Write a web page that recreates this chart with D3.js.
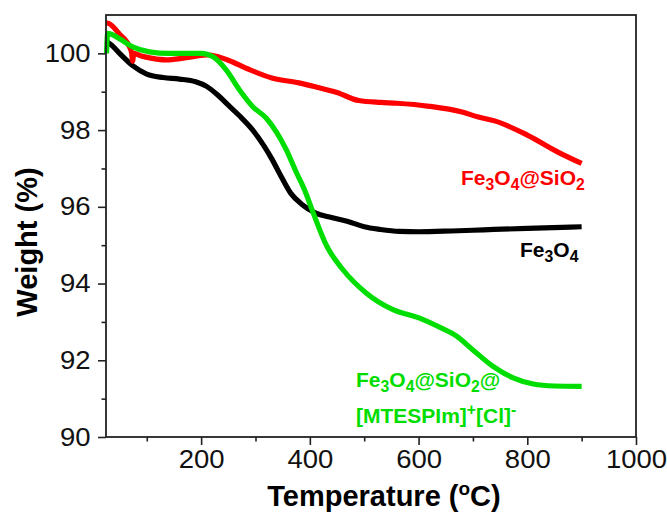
<!DOCTYPE html>
<html>
<head>
<meta charset="utf-8">
<script src="https://cdn.jsdelivr.net/npm/d3@7"></script>
<style>
  html, body { margin: 0; padding: 0; background: #fff; }
  svg { display: block; font-family: "Liberation Sans", Arial, sans-serif; }
</style>
</head>
<body>
<svg id="chart" width="667" height="517"></svg>
<script>
// ---- Data (temperature °C, weight %) ----
const fe3o4Temp   = [25, 35, 50, 75, 100, 130, 160, 190, 210, 230, 250, 270, 295, 315, 330, 345, 365, 385, 410, 440, 470, 500, 530, 565, 600, 660, 720, 800, 900];
const fe3o4Weight = [100.32, 100.22, 100.0, 99.67, 99.46, 99.37, 99.33, 99.26, 99.14, 98.92, 98.65, 98.38, 98.0, 97.6, 97.25, 96.85, 96.35, 96.07, 95.84, 95.72, 95.62, 95.48, 95.41, 95.36, 95.35, 95.37, 95.4, 95.44, 95.48];

const sio2Temp   = [25, 30, 50, 70, 72, 74, 76, 90, 110, 135, 170, 210, 230, 250, 290, 330, 380, 410, 450, 490, 530, 560, 620, 680, 710, 740, 800, 860, 900];
const sio2Weight = [100.8, 100.78, 100.5, 100.12, 100.02, 99.8, 100.0, 99.93, 99.87, 99.83, 99.88, 99.96, 99.92, 99.82, 99.57, 99.36, 99.23, 99.13, 98.98, 98.77, 98.72, 98.7, 98.62, 98.47, 98.34, 98.24, 97.87, 97.4, 97.13];

const ilTemp   = [26, 28, 35, 50, 74, 105, 140, 170, 200, 222, 246, 271, 295, 320, 338, 357, 375, 390, 406, 431, 461, 504, 553, 602, 639, 670, 700, 737, 774, 811, 850, 900];
const ilWeight = [100.0, 100.52, 100.5, 100.38, 100.17, 100.04, 100.0, 100.0, 100.0, 99.91, 99.57, 99.04, 98.61, 98.31, 97.96, 97.48, 96.9, 96.45, 95.85, 94.98, 94.36, 93.75, 93.32, 93.1, 92.86, 92.63, 92.27, 91.84, 91.54, 91.38, 91.33, 91.32];

const xMajorTicks = [200, 400, 600, 800, 1000];
const xMinorTicks = [100, 300, 500, 700, 900];
const yMajorTicks = [90, 92, 94, 96, 98, 100];
const yMinorTicks = [91, 93, 95, 97, 99];

const seriesColors = { fe3o4: "#000000", sio2: "#ff0000", il: "#00dd00" };

// ---- Layout ----
const svg = d3.select("#chart");
const mLeft = 106, mRight = 636, mTop = 15, mBottom = 437;

const x = d3.scaleLinear().domain([25, 1000]).range([mLeft, mRight]);
const y = d3.scaleLinear().domain([90, 101]).range([mBottom, mTop]);

const axisColor = "#222";

// Curves
const line = d3.line().x(d => x(d[0])).y(d => y(d[1])).curve(d3.curveMonotoneX);
function drawSeries(t, w, color) {
  svg.append("path")
    .datum(t.map((v, i) => [v, w[i]]))
    .attr("d", line)
    .attr("fill", "none")
    .attr("stroke", color)
    .attr("stroke-width", 5.2)
    .attr("stroke-linejoin", "round");
}
drawSeries(fe3o4Temp, fe3o4Weight, seriesColors.fe3o4);
drawSeries(sio2Temp, sio2Weight, seriesColors.sio2);
drawSeries(ilTemp, ilWeight, seriesColors.il);

// Axes
const xAxis = d3.axisBottom(x).tickValues(xMajorTicks).tickSize(8).tickPadding(5).tickFormat(d3.format("d"));
const xAxisMinor = d3.axisBottom(x).tickValues(xMinorTicks).tickSize(4.5).tickFormat("");
const yAxis = d3.axisLeft(y).tickValues(yMajorTicks).tickSize(8).tickPadding(6).tickFormat(d3.format("d"));
const yAxisMinor = d3.axisLeft(y).tickValues(yMinorTicks).tickSize(4.5).tickFormat("");

function styleAxis(g) {
  g.select(".domain").remove();
  g.selectAll("line").attr("stroke", axisColor).attr("stroke-width", 1.6);
  g.selectAll("text").attr("fill", "#111").attr("font-size", 25)
    .attr("font-family", "'Liberation Sans', Arial, sans-serif")
    .attr("transform", "scale(1.1,1)");
}
svg.append("g").attr("transform", `translate(0,${mBottom})`).call(xAxis).call(styleAxis);
svg.append("g").attr("transform", `translate(0,${mBottom})`).call(xAxisMinor).call(styleAxis);
svg.append("g").attr("transform", `translate(${mLeft},0)`).call(yAxis).call(styleAxis);
svg.append("g").attr("transform", `translate(${mLeft},0)`).call(yAxisMinor).call(styleAxis);

// Frame
svg.append("rect")
  .attr("x", mLeft).attr("y", mTop)
  .attr("width", mRight - mLeft).attr("height", mBottom - mTop)
  .attr("fill", "none").attr("stroke", axisColor).attr("stroke-width", 1.8);

// Axis titles
const xt = svg.append("text")
  .attr("x", 384).attr("y", 506)
  .attr("text-anchor", "middle")
  .attr("font-size", 29).attr("font-weight", "bold").attr("fill", "#000");
xt.append("tspan").text("Temperature (");
xt.append("tspan").text("o").attr("font-size", 19).attr("dy", -11);
xt.append("tspan").text("C)").attr("dy", 11);

svg.append("text")
  .attr("transform", "translate(37,242) rotate(-90)")
  .attr("text-anchor", "middle")
  .attr("font-size", 29).attr("font-weight", "bold").attr("fill", "#000")
  .text("Weight (%)");

// Series labels with sub/superscripts
function richLabel(xp, yp, parts, color) {
  const t = svg.append("text").attr("x", xp).attr("y", yp)
    .attr("font-size", 21).attr("font-weight", "bold").attr("fill", color);
  let shift = 0;
  parts.forEach(p => {
    const target = p.sub ? 5 : p.sup ? -8 : 0;
    const s = t.append("tspan").text(p.t).attr("dy", target - shift);
    if (p.sub || p.sup) s.attr("font-size", 15.75);
    shift = target;
  });
  return t;
}
richLabel(461, 185, [{t:"Fe"},{t:"3",sub:1},{t:"O"},{t:"4",sub:1},{t:"@SiO"},{t:"2",sub:1}], seriesColors.sio2);
richLabel(520, 257, [{t:"Fe"},{t:"3",sub:1},{t:"O"},{t:"4",sub:1}], seriesColors.fe3o4);
richLabel(356, 387, [{t:"Fe"},{t:"3",sub:1},{t:"O"},{t:"4",sub:1},{t:"@SiO"},{t:"2",sub:1},{t:"@"}], seriesColors.il);
richLabel(356, 423, [{t:"[MTESPIm]"},{t:"+",sup:1},{t:"[Cl]"},{t:"-",sup:1}], seriesColors.il);
</script>
</body>
</html>
